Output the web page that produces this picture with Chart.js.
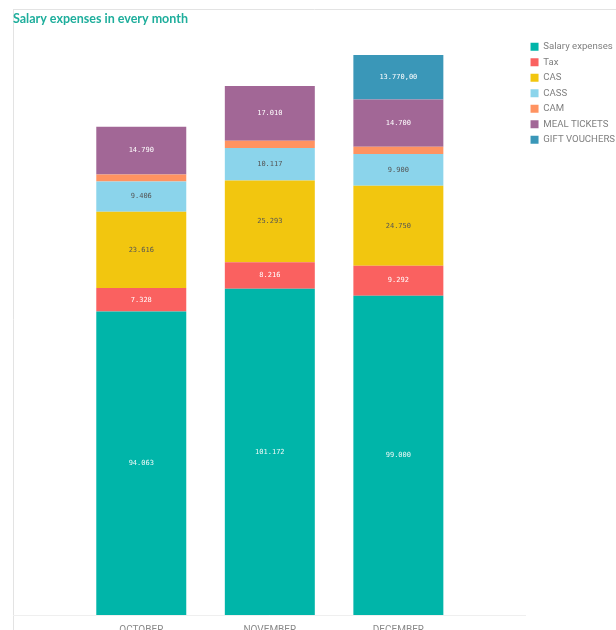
<!DOCTYPE html>
<html>
<head>
<meta charset="utf-8">
<script src="https://cdn.jsdelivr.net/npm/chart.js@4/dist/chart.umd.min.js"></script>
<style>
  body { margin: 0; background: #fff; }
  #wrap { width: 616px; height: 630px; }
</style>
</head>
<body>
<div id="wrap"><canvas id="salaryChart" width="616" height="630"></canvas></div>
<script>
const months = ['OCTOBER', 'NOVEMBER', 'DECEMBER'];

const salary = [94063, 101172, 99000];
const tax = [7328, 8216, 9292];
const cas = [23616, 25293, 24750];
const cass = [9406, 10117, 9900];
const cam = [2180, 2220, 2200];
const mealTickets = [14790, 17010, 14700];
const giftVouchers = [null, null, 13770];

// white text on the dark segments, grey on the light ones
const darkText = '#555555';
const lightText = '#ffffff';

function fmt(v, decimals) {
    return v.toLocaleString('de-DE', { minimumFractionDigits: decimals, maximumFractionDigits: decimals });
}

// thin panel border plus the long baseline under the bars
const frameLines = {
    id: 'frameLines',
    beforeDraw(chart) {
        const c = chart.ctx;
        c.save();
        c.strokeStyle = '#e3e3e3';
        c.lineWidth = 1;
        c.beginPath();
        c.moveTo(13.5, 9.5);
        c.lineTo(13.5, chart.height);
        c.moveTo(13, 9.5);
        c.lineTo(chart.width, 9.5);
        c.stroke();
        c.strokeStyle = '#efefef';
        c.beginPath();
        c.moveTo(13, chart.chartArea.bottom + 0.5);
        c.lineTo(526, chart.chartArea.bottom + 0.5);
        c.stroke();
        c.restore();
    }
};

// value text in the middle of every segment tall enough to hold it
const segmentLabels = {
    id: 'segmentLabels',
    afterDatasetsDraw(chart) {
        const c = chart.ctx;
        c.save();
        c.font = '7px "DejaVu Sans Mono"';
        c.textAlign = 'center';
        c.textBaseline = 'middle';
        chart.data.datasets.forEach((ds, i) => {
            const meta = chart.getDatasetMeta(i);
            if (meta.hidden) return;
            meta.data.forEach((bar, j) => {
                const v = ds.data[j];
                if (v == null) return;
                const p = bar.getProps(['x', 'y', 'base'], true);
                if (p.base - p.y < 12) return;
                c.fillStyle = ds.labelColor;
                c.fillText(fmt(v, ds.decimals || 0), p.x, (p.y + p.base) / 2);
            });
        });
        c.restore();
    }
};

var ctx = document.getElementById('salaryChart').getContext('2d');

const salaryChart = new Chart(ctx, {
    type: 'bar',
    data: {
        labels: months,
        datasets: [
            { label: 'Salary expenses', data: salary, backgroundColor: '#00b5a9', labelColor: '#eef9f7' },
            { label: 'Tax', data: tax, backgroundColor: '#fa6160', labelColor: lightText },
            { label: 'CAS', data: cas, backgroundColor: '#f2c60f', labelColor: darkText },
            { label: 'CASS', data: cass, backgroundColor: '#8bd4eb', labelColor: darkText },
            { label: 'CAM', data: cam, backgroundColor: '#ff9361', labelColor: lightText },
            { label: 'MEAL TICKETS', data: mealTickets, backgroundColor: '#a26796', labelColor: lightText },
            { label: 'GIFT VOUCHERS', data: giftVouchers, backgroundColor: '#3a97b8', labelColor: lightText, decimals: 2 }
        ]
    },
    options: {
        responsive: false,
        animation: false,
        layout: { padding: { left: 13, top: 10, right: -9, bottom: 0 } },
        datasets: {
            bar: { barPercentage: 0.7, categoryPercentage: 1, borderWidth: 0 }
        },
        scales: {
            x: {
                stacked: true,
                grid: { display: false, drawTicks: false },
                border: { display: false },
                ticks: { color: '#8a8a8a', padding: 9, font: { family: 'Roboto', size: 10 } },
                afterFit(scale) { scale.height = 15; }
            },
            y: {
                stacked: true,
                beginAtZero: true,
                max: 179500,
                grid: { display: false },
                border: { display: false },
                ticks: { display: false },
                afterFit(scale) { scale.width = 64; }
            },
            y2: {
                position: 'right',
                grid: { display: false },
                border: { display: false },
                ticks: { display: false },
                afterFit(scale) { scale.width = 62; }
            }
        },
        plugins: {
            title: {
                display: true,
                text: 'Salary expenses in every month',
                align: 'start',
                color: '#1fae9c',
                font: { family: 'Lato', size: 12.5, weight: 'bold' },
                padding: { top: 1, bottom: 10 }
            },
            legend: {
                position: 'right',
                align: 'start',
                fullSize: false,
                labels: {
                    boxWidth: 8,
                    boxHeight: 8,
                    padding: 5.9,
                    color: '#7f7f7f',
                    font: { family: 'Roboto', size: 9.6 }
                }
            },
            tooltip: { enabled: false }
        }
    },
    plugins: [frameLines, segmentLabels]
});
</script>
</body>
</html>
